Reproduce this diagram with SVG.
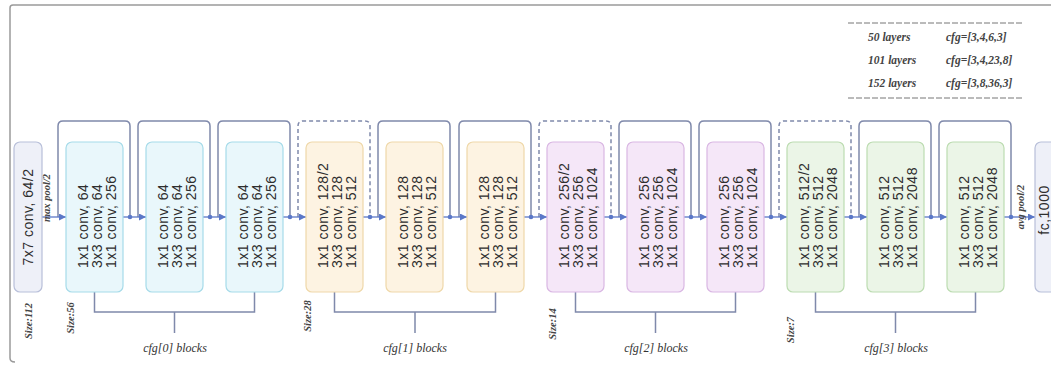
<svg xmlns="http://www.w3.org/2000/svg" width="1051" height="365" viewBox="0 0 1051 365">
<style>
.bt{font-family:"Liberation Sans",Arial,sans-serif;font-size:14px;fill:#2e2e2e;letter-spacing:0.5px}
.it{font-family:"Liberation Serif","Times New Roman",serif;font-style:italic;font-weight:bold;fill:#444}
.lg{font-size:11.5px}
.sz{font-size:10.5px;text-anchor:middle}
.cb{font-size:12px;text-anchor:middle;font-weight:normal;fill:#333}
.s0{fill:#e9f7fb;stroke:#a6dbe9;stroke-width:1.2}
.s1{fill:#fdf3e2;stroke:#efd8a9;stroke-width:1.2}
.s2{fill:#f5e7f8;stroke:#d9b7e3;stroke-width:1.2}
.s3{fill:#ebf5e7;stroke:#bcdcb1;stroke-width:1.2}
.sx{fill:#eef0f8;stroke:#b8bfd9;stroke-width:1.2}
.byp{fill:none;stroke:#7f89ab;stroke-width:1.5}
.dash{stroke-dasharray:4 3}
.flow{fill:none;stroke:#5b78c8;stroke-width:1.3}
.brk{fill:none;stroke:#7f89ab;stroke-width:1.5}
.dot{fill:#5b78c8}
</style>
<defs>
<marker id="ah" viewBox="0 0 10 10" refX="10" refY="5" markerWidth="7" markerHeight="7" markerUnits="userSpaceOnUse" orient="auto">
<path d="M0,0 L10,5 L0,10 z" fill="#5b78c8"/>
</marker>
</defs>
<rect width="1051" height="365" fill="#fff"/>
<g id="frame">
<path d="M10,358 V8 Q10,5 13,5 H1051" fill="none" stroke="#9a9a9a" stroke-width="1.5"/>
<path d="M10,358 Q10,362 15,362" fill="none" stroke="#9a9a9a" stroke-width="1.5"/>
</g>
<g id="legend">
<line x1="848" y1="23" x2="1022" y2="23" stroke="#777" stroke-width="1" stroke-dasharray="6 2"/>
<line x1="848" y1="98" x2="1022" y2="98" stroke="#777" stroke-width="1" stroke-dasharray="6 2"/>
<text class="it lg" x="868" y="41">50 layers</text>
<text class="it lg" x="868" y="64">101 layers</text>
<text class="it lg" x="868" y="87">152 layers</text>
<text class="it lg" x="946" y="41">cfg=[3,4,6,3]</text>
<text class="it lg" x="946" y="64">cfg=[3,4,23,8]</text>
<text class="it lg" x="946" y="87">cfg=[3,8,36,3]</text>
</g>
<g id="connectors">
<path class="byp" d="M58,217 V126 Q58,121 63,121 H125 Q130,121 130,126 V217"/>
<path class="byp" d="M138,217 V126 Q138,121 143,121 H205 Q210,121 210,126 V217"/>
<path class="byp" d="M218,217 V126 Q218,121 223,121 H285 Q290,121 290,126 V217"/>
<path class="byp dash" d="M298,217 V126 Q298,121 303,121 H365 Q370,121 370,126 V217"/>
<path class="byp" d="M378,217 V126 Q378,121 383,121 H445 Q450,121 450,126 V217"/>
<path class="byp" d="M459,217 V126 Q459,121 464,121 H526 Q531,121 531,126 V217"/>
<path class="byp dash" d="M539,217 V126 Q539,121 544,121 H606 Q611,121 611,126 V217"/>
<path class="byp" d="M619,217 V126 Q619,121 624,121 H686 Q691,121 691,126 V217"/>
<path class="byp" d="M699,217 V126 Q699,121 704,121 H766 Q771,121 771,126 V217"/>
<path class="byp dash" d="M779,217 V126 Q779,121 784,121 H846 Q851,121 851,126 V217"/>
<path class="byp" d="M859,217 V126 Q859,121 864,121 H926 Q931,121 931,126 V217"/>
<path class="byp" d="M939,217 V126 Q939,121 944,121 H1006 Q1011,121 1011,126 V217"/>
<line class="flow" x1="42" y1="217" x2="66" y2="217" marker-end="url(#ah)"/>
<line class="flow" x1="123" y1="217" x2="146" y2="217" marker-end="url(#ah)"/>
<line class="flow" x1="203" y1="217" x2="226" y2="217" marker-end="url(#ah)"/>
<line class="flow" x1="283" y1="217" x2="306" y2="217" marker-end="url(#ah)"/>
<line class="flow" x1="363" y1="217" x2="386" y2="217" marker-end="url(#ah)"/>
<line class="flow" x1="443" y1="217" x2="467" y2="217" marker-end="url(#ah)"/>
<line class="flow" x1="524" y1="217" x2="547" y2="217" marker-end="url(#ah)"/>
<line class="flow" x1="604" y1="217" x2="627" y2="217" marker-end="url(#ah)"/>
<line class="flow" x1="684" y1="217" x2="707" y2="217" marker-end="url(#ah)"/>
<line class="flow" x1="764" y1="217" x2="787" y2="217" marker-end="url(#ah)"/>
<line class="flow" x1="844" y1="217" x2="867" y2="217" marker-end="url(#ah)"/>
<line class="flow" x1="924" y1="217" x2="947" y2="217" marker-end="url(#ah)"/>
<line class="flow" x1="1004" y1="217" x2="1035" y2="217" marker-end="url(#ah)"/>
<circle class="dot" cx="130" cy="217" r="2.3"/>
<circle class="dot" cx="210" cy="217" r="2.3"/>
<circle class="dot" cx="290" cy="217" r="2.3"/>
<circle class="dot" cx="370" cy="217" r="2.3"/>
<circle class="dot" cx="450" cy="217" r="2.3"/>
<circle class="dot" cx="531" cy="217" r="2.3"/>
<circle class="dot" cx="611" cy="217" r="2.3"/>
<circle class="dot" cx="691" cy="217" r="2.3"/>
<circle class="dot" cx="771" cy="217" r="2.3"/>
<circle class="dot" cx="851" cy="217" r="2.3"/>
<circle class="dot" cx="931" cy="217" r="2.3"/>
<circle class="dot" cx="1011" cy="217" r="2.3"/>
<path class="brk" d="M94.5,292 V312 H254.5 V292 M174.5,312 V333"/>
<path class="brk" d="M334.5,292 V312 H495.5 V292 M415,312 V333"/>
<path class="brk" d="M575.5,292 V312 H735.5 V292 M655.5,312 V333"/>
<path class="brk" d="M815.5,292 V312 H975.5 V292 M895.5,312 V333"/>
</g>
<g id="conv1">
<rect class="sx" x="14" y="142" width="28" height="150" rx="6"/>
<text class="bt" transform="translate(33,217) rotate(-90)" text-anchor="middle">7x7 conv, 64/2</text>
</g>
<g id="maxpool"><text class="it sz" transform="translate(49.5,198) rotate(-90)">max pool/2</text></g>
<g id="b1"><rect class="s0" x="66" y="142" width="57" height="150" rx="6"/>
<g transform="translate(66,268) rotate(-90)" class="bt"><text y="22">1x1 conv, 64</text><text y="36">3x3 conv, 64</text><text y="50">1x1 conv, 256</text></g></g>
<g id="b2"><rect class="s0" x="146" y="142" width="57" height="150" rx="6"/>
<g transform="translate(146,268) rotate(-90)" class="bt"><text y="22">1x1 conv, 64</text><text y="36">3x3 conv, 64</text><text y="50">1x1 conv, 256</text></g></g>
<g id="b3"><rect class="s0" x="226" y="142" width="57" height="150" rx="6"/>
<g transform="translate(226,268) rotate(-90)" class="bt"><text y="22">1x1 conv, 64</text><text y="36">3x3 conv, 64</text><text y="50">1x1 conv, 256</text></g></g>
<g id="b4"><rect class="s1" x="306" y="142" width="57" height="150" rx="6"/>
<g transform="translate(306,268) rotate(-90)" class="bt"><text y="22">1x1 conv, 128/2</text><text y="36">3x3 conv, 128</text><text y="50">1x1 conv, 512</text></g></g>
<g id="b5"><rect class="s1" x="386" y="142" width="57" height="150" rx="6"/>
<g transform="translate(386,268) rotate(-90)" class="bt"><text y="22">1x1 conv, 128</text><text y="36">3x3 conv, 128</text><text y="50">1x1 conv, 512</text></g></g>
<g id="b6"><rect class="s1" x="467" y="142" width="57" height="150" rx="6"/>
<g transform="translate(467,268) rotate(-90)" class="bt"><text y="22">1x1 conv, 128</text><text y="36">3x3 conv, 128</text><text y="50">1x1 conv, 512</text></g></g>
<g id="b7"><rect class="s2" x="547" y="142" width="57" height="150" rx="6"/>
<g transform="translate(547,268) rotate(-90)" class="bt"><text y="22">1x1 conv, 256/2</text><text y="36">3x3 conv, 256</text><text y="50">1x1 conv, 1024</text></g></g>
<g id="b8"><rect class="s2" x="627" y="142" width="57" height="150" rx="6"/>
<g transform="translate(627,268) rotate(-90)" class="bt"><text y="22">1x1 conv, 256</text><text y="36">3x3 conv, 256</text><text y="50">1x1 conv, 1024</text></g></g>
<g id="b9"><rect class="s2" x="707" y="142" width="57" height="150" rx="6"/>
<g transform="translate(707,268) rotate(-90)" class="bt"><text y="22">1x1 conv, 256</text><text y="36">3x3 conv, 256</text><text y="50">1x1 conv, 1024</text></g></g>
<g id="b10"><rect class="s3" x="787" y="142" width="57" height="150" rx="6"/>
<g transform="translate(787,268) rotate(-90)" class="bt"><text y="22">1x1 conv, 512/2</text><text y="36">3x3 conv, 512</text><text y="50">1x1 conv, 2048</text></g></g>
<g id="b11"><rect class="s3" x="867" y="142" width="57" height="150" rx="6"/>
<g transform="translate(867,268) rotate(-90)" class="bt"><text y="22">1x1 conv, 512</text><text y="36">3x3 conv, 512</text><text y="50">1x1 conv, 2048</text></g></g>
<g id="b12"><rect class="s3" x="947" y="142" width="57" height="150" rx="6"/>
<g transform="translate(947,268) rotate(-90)" class="bt"><text y="22">1x1 conv, 512</text><text y="36">3x3 conv, 512</text><text y="50">1x1 conv, 2048</text></g></g>
<g id="avgpool"><text class="it sz" transform="translate(1024,207) rotate(-90)">avg pool/2</text></g>
<g id="fc">
<rect class="sx" x="1035" y="142" width="30" height="150" rx="6"/>
<text class="bt" transform="translate(1049,210) rotate(-90)" text-anchor="middle">fc,1000</text>
</g>
<g id="sizes">
<text class="it sz" transform="translate(31.5,321) rotate(-90)">Size:112</text>
<text class="it sz" transform="translate(73.5,318) rotate(-90)">Size:56</text>
<text class="it sz" transform="translate(310.5,316) rotate(-90)">Size:28</text>
<text class="it sz" transform="translate(555.5,324) rotate(-90)">Size:14</text>
<text class="it sz" transform="translate(793.5,330) rotate(-90)">Size:7</text>
</g>
<g id="stage-labels">
<text class="it cb" x="175" y="352">cfg[0] blocks</text>
<text class="it cb" x="415" y="352">cfg[1] blocks</text>
<text class="it cb" x="656" y="352">cfg[2] blocks</text>
<text class="it cb" x="896" y="352">cfg[3] blocks</text>
</g>
</svg>
